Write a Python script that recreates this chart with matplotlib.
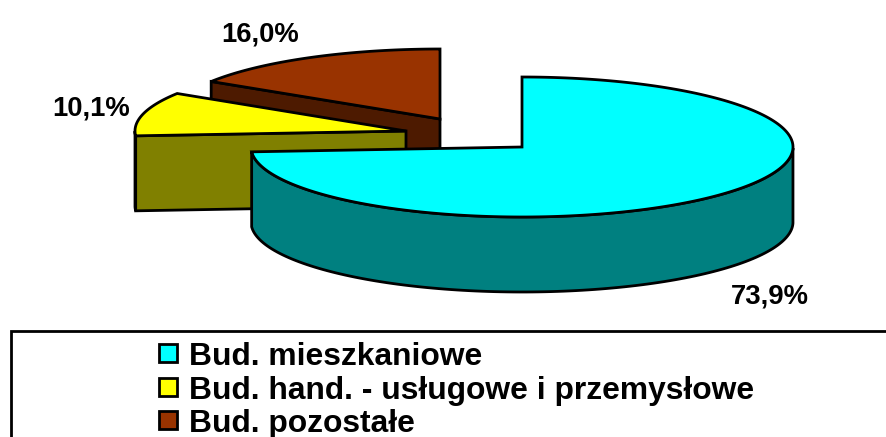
import matplotlib
matplotlib.use("Agg")
import matplotlib.pyplot as plt
import numpy as np
from matplotlib.patches import Polygon, Rectangle

plt.rcParams["font.family"] = ["Liberation Sans", "DejaVu Sans"]

# Datos
etiquetas = ["Bud. mieszkaniowe", "Bud. hand. - usługowe i przemysłowe", "Bud. pozostałe"]
valores = [73.9, 10.1, 16.0]
textos = ["73,9%", "10,1%", "16,0%"]

colores_top = ["#00FFFF", "#FFFF00", "#993300"]
colores_lado = ["#008080", "#808000", "#4D1A00"]

# apice de cada porcion en pixeles (explosion)
centros = [(522, 147), (406, 131), (440, 119)]
pos_texto = [(770, 304), (91, 115), (260, 41)]
rx, ry, alto = 271, 70, 75
lw = 2.0


def punto(c, ang):
    # angulo en radianes, horario desde las 12
    return np.column_stack([c[0] + rx * np.sin(ang), c[1] - ry * np.cos(ang)])


def porcion(ax, c, a0, a1, top, lado):
    ang = np.linspace(a0, a1, 200)
    arco = punto(c, ang)
    # cara del corte del lado a0, visible si mira hacia abajo
    if np.pi < a0 % (2 * np.pi):
        p0 = arco[0]
        cara = [c, p0, p0 + [0, alto], (c[0], c[1] + alto)]
        ax.add_patch(Polygon(cara, fc=lado, ec="black", lw=lw, joinstyle="miter"))
    # pared exterior, solo la mitad delantera
    frente = ang[(ang > np.pi / 2) & (ang < 3 * np.pi / 2)]
    if len(frente) > 1:
        f = punto(c, frente)
        pared = np.vstack([f, f[::-1] + [0, alto]])
        ax.add_patch(Polygon(pared, fc=lado, ec="black", lw=lw, joinstyle="miter"))
    ax.add_patch(Polygon(np.vstack([[c], arco]), fc=top, ec="black", lw=lw, joinstyle="miter"))


fig = plt.figure(figsize=(8.86, 4.37), dpi=100)
ax = fig.add_axes([0, 0, 1, 1])
ax.set_xlim(0, 886)
ax.set_ylim(437, 0)
ax.axis("off")

cortes = np.cumsum([0] + valores) / sum(valores) * 2 * np.pi
# se dibuja de atras hacia adelante
for i in [2, 1, 0]:
    porcion(ax, centros[i], cortes[i], cortes[i + 1], colores_top[i], colores_lado[i])

for (x, y), t in zip(pos_texto, textos):
    ax.text(x, y, t, fontsize=19.8, fontweight="bold", ha="center", va="baseline")

# Leyenda
ax.add_patch(Rectangle((11, 331), 900, 130, fc="white", ec="black", lw=2.0))
for i, et in enumerate(etiquetas):
    y = 365 + i * 33.5
    ax.add_patch(Rectangle((159, y - 21), 18, 18, fc=colores_top[i], ec="black", lw=2.0))
    ax.text(189, y, et, fontsize=22.9, fontweight="bold", ha="left", va="baseline")

fig.savefig("out.png", dpi=100)
